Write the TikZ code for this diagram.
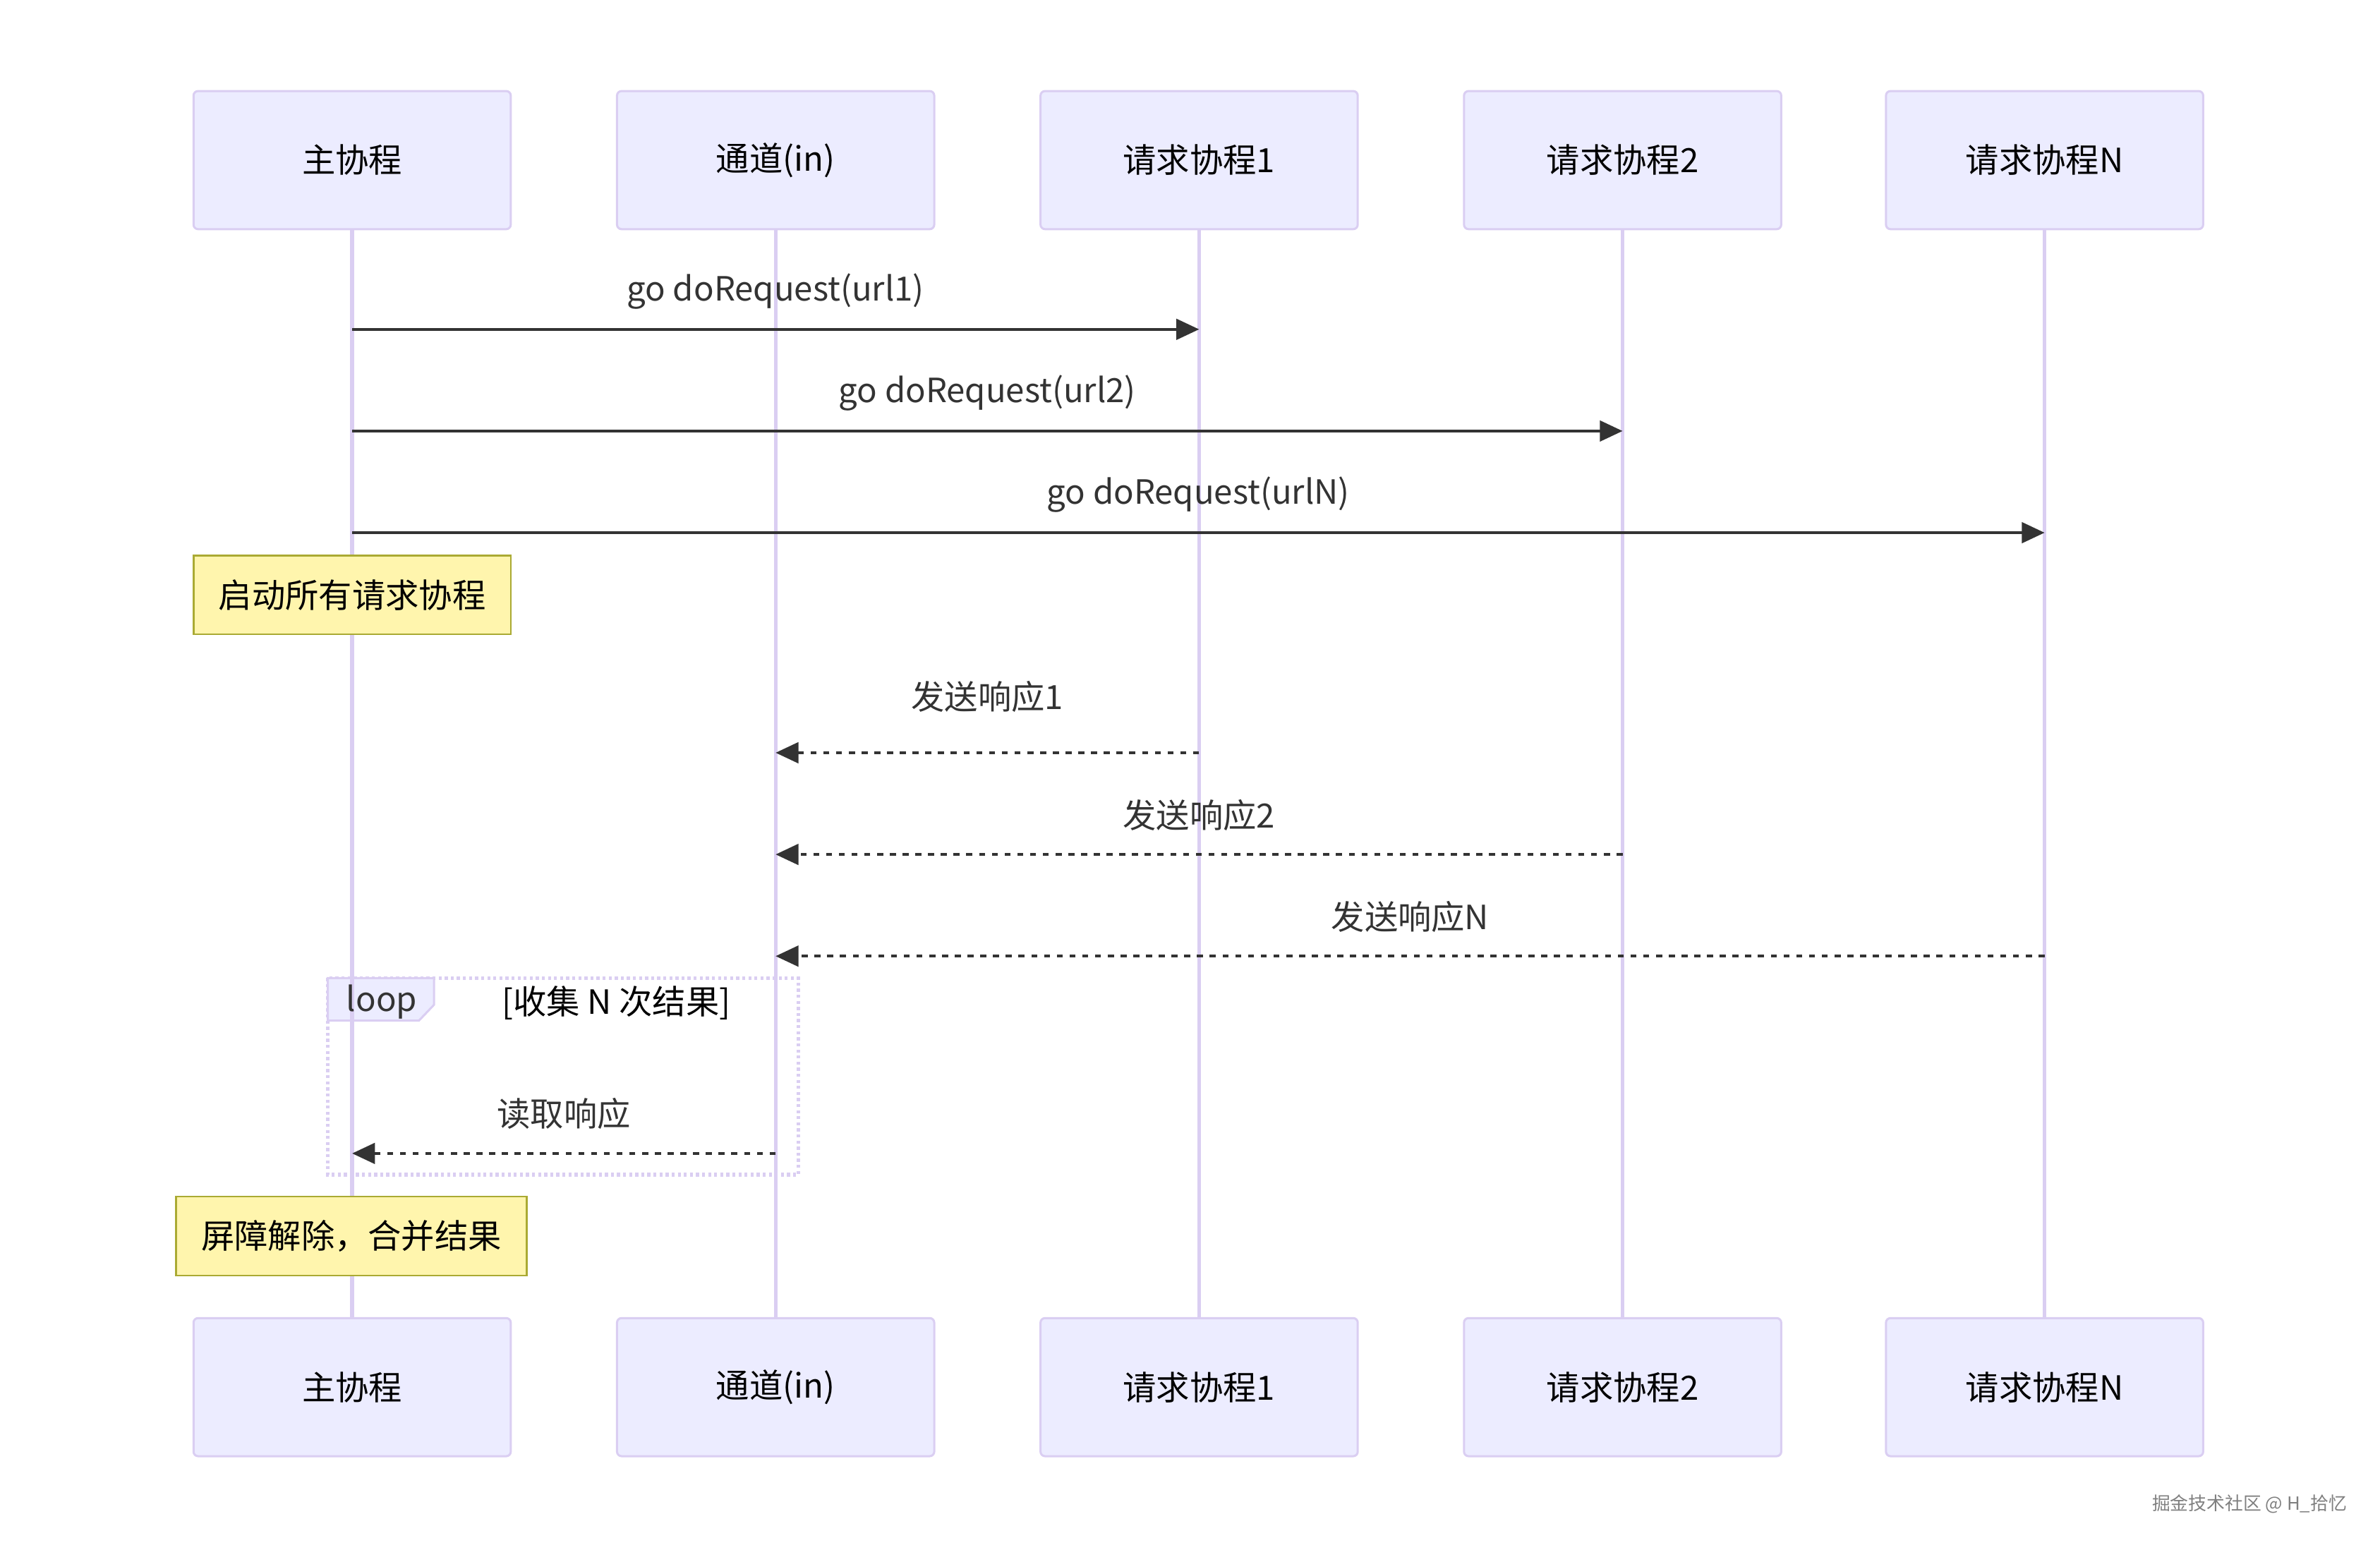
\documentclass[tikz,border=0pt]{standalone}
\usepackage{fontspec}
\setmainfont{Noto Sans CJK SC}
\usetikzlibrary{arrows.meta,positioning,calc}
\definecolor{actorbg}{HTML}{ECECFF}
\definecolor{actorrim}{HTML}{DACEF2}
\definecolor{notebg}{HTML}{FFF5AD}
\definecolor{noterim}{HTML}{AAAA33}
\definecolor{msgcol}{HTML}{333333}

\begin{document}
\begin{tikzpicture}[x=0.5pt,y=-0.5pt,
  actor/.style={draw=actorrim,fill=actorbg,line width=0.7pt,rounded corners=1.5pt,
    minimum width=104.5pt,minimum height=45.5pt,font=\fontsize{11}{13}\selectfont},
  lifeline/.style={draw=actorrim,line width=1.2pt},
  call/.style={draw=msgcol,line width=0.9pt,-{Triangle[length=7.5pt,width=6.8pt]}},
  reply/.style={call,dash pattern=on 2pt off 2.2pt},
  msgtext/.style={text=msgcol,font=\fontsize{11}{13}\selectfont,inner sep=1pt},
  notebox/.style={draw=noterim,fill=notebg,line width=0.6pt,minimum height=26pt,
    font=\fontsize{11}{13}\selectfont},
  loopline/.style={draw=actorrim,line width=1.2pt,dash pattern=on 1pt off 1pt}]
\useasboundingbox (0,0) rectangle (1568,1021);
% Participants, top and bottom
\foreach \nm/\xx/\txt in {main/232/主协程, chan/511/通道(in), reqA/790/请求协程1,
    reqB/1069/请求协程2, reqN/1347/请求协程N} {
  \node[actor] (\nm) at (\xx,105.5) {\txt};
  \node[actor] (\nm-b) at (\xx,914) {\txt};
}
% Loop frame
\draw[loopline] (216,644.5) rectangle (526,774);
\draw[draw=actorrim,fill=actorbg,line width=0.7pt]
  (216,644.5) -- (286,644.5) -- (286,662) -- (276,672.5) -- (216,672.5) -- cycle;
% Lifelines
\foreach \nm in {main,chan,reqA,reqB,reqN} {
  \draw[lifeline] (\nm.south) -- (\nm-b.north);
}
\node[msgtext] (loopkw) at (251.5,660) {loop};
\node[msgtext,text=black] (loopcond) at (406,661) {[收集 N 次结果]};
% Start the request goroutines
\foreach \yy/\dst/\txt in {217/reqA/go doRequest(url1), 284/reqB/go doRequest(url2),
    351/reqN/go doRequest(urlN)} {
  \draw[call] (main |- 0,\yy) -- (\dst |- 0,\yy)
    node[msgtext,midway,yshift=12.5pt] {\txt};
}
% Responses back into the channel, then read out
\foreach \yy/\src/\dst/\up/\txt in {496/reqA/chan/18.5/发送响应1, 563/reqB/chan/13/发送响应2,
    630/reqN/chan/13/发送响应N, 760/chan/main/13/读取响应} {
  \draw[reply] (\src |- 0,\yy) -- (\dst |- 0,\yy)
    node[msgtext,midway,yshift=\up pt] {\txt};
}
% Notes over the main goroutine
\node[notebox,minimum width=104.5pt] (startnote) at (232,392) {启动所有请求协程};
\node[notebox,minimum width=115.5pt] (mergenote) at (231.5,814.5) {屏障解除，合并结果};
% Watermark
\node[text=gray,font=\fontsize{6}{7}\selectfont] (wmark) at (1482,991) {掘金技术社区 @ H\_拾忆};
\end{tikzpicture}
\end{document}
